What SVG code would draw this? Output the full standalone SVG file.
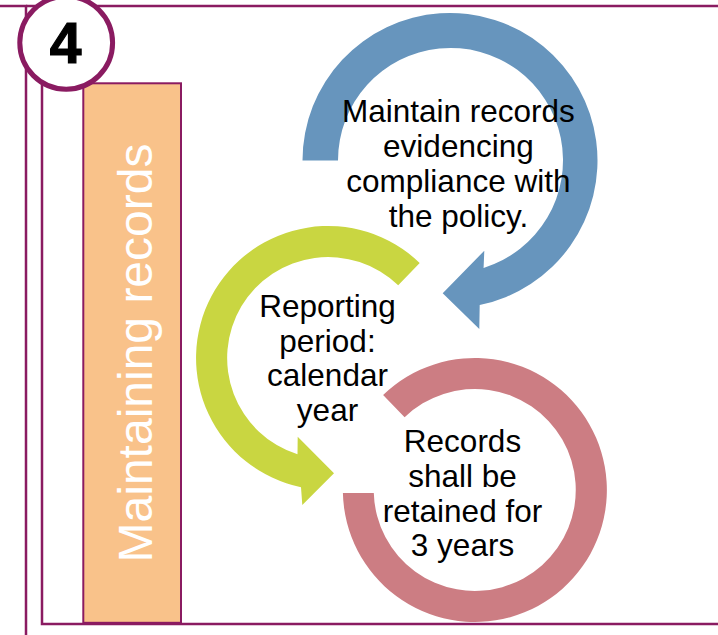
<svg xmlns="http://www.w3.org/2000/svg" width="718" height="635" viewBox="0 0 718 635">
  <style>
    .frame { stroke: #8A1B61; stroke-width: 2.5; fill: none; }
    .step { font-family: "Liberation Sans", Arial, sans-serif; font-size: 31.5px; fill: #000; text-anchor: middle; }
    .side { font-family: "Liberation Sans", Arial, sans-serif; font-size: 48px; fill: #fff; text-anchor: middle; }
    .badge-num { font-family: "Liberation Sans", Arial, sans-serif; font-size: 57px; font-weight: bold; fill: #000; stroke: #000; stroke-width: 1.2; text-anchor: middle; }
  </style>

  <rect width="718" height="635" fill="#fff"/>

  <!-- page frame -->
  <g id="frame" class="frame">
    <polyline points="0,6 26,6 26,635"/>
    <line x1="26" y1="6" x2="718" y2="6"/>
    <polyline points="42,6 42,624 718,624"/>
  </g>

  <!-- side banner -->
  <g id="banner">
    <rect x="83.3" y="83.3" width="97.7" height="539.5" fill="#F9C28A" stroke="#8A1B61" stroke-width="2"/>
    <text class="side" transform="translate(151.5 353) rotate(-90)">Maintaining records</text>
  </g>

  <!-- step number badge -->
  <g id="badge">
    <circle cx="66.2" cy="42.8" r="46.4" fill="#fff" stroke="#8A1B61" stroke-width="5"/>
    <text class="badge-num" x="65.5" y="63">4</text>
  </g>

  <!-- cycle arrows -->
  <g id="connectors">
    <path id="arrow-maintain" fill="#6795BD" d="M 302.5 160.5 A 147.5 147.5 0 1 1 479.7 305 L 479.3 329 L 442.7 293.3 L 484.3 250.7 L 483.6 267.9 A 112.5 112.5 0 1 0 338 160.5 Z"/>
    <path id="arrow-reporting" fill="#C9D641" d="M 419.7 263 A 132 132 0 1 0 301 487.2 L 302.3 505 L 334 473.3 L 297.7 436.7 L 297.5 454.3 A 101 101 0 1 1 398.2 285.3 Z"/>
    <path id="arrow-retain" fill="#CC7D83" d="M 383.1 395.1 A 132 132 0 1 1 342.9 493 L 373.8 493 A 101 101 0 1 0 404.6 417.3 Z"/>
  </g>

  <g id="step-maintain">
    <text class="step" x="458.4" y="121.7">Maintain records</text>
    <text class="step" x="458.4" y="156.7">evidencing</text>
    <text class="step" x="458.4" y="191.7">compliance with</text>
    <text class="step" x="458.4" y="226.7">the policy.</text>
  </g>

  <g id="step-reporting">
    <text class="step" x="327.5" y="317">Reporting</text>
    <text class="step" x="327.5" y="351.7">period:</text>
    <text class="step" x="327.5" y="386.4">calendar</text>
    <text class="step" x="327.5" y="421">year</text>
  </g>

  <g id="step-retain">
    <text class="step" x="462.5" y="451.7">Records</text>
    <text class="step" x="462.5" y="486.7">shall be</text>
    <text class="step" x="462.5" y="521.7">retained for</text>
    <text class="step" x="462.5" y="556">3 years</text>
  </g>
</svg>
